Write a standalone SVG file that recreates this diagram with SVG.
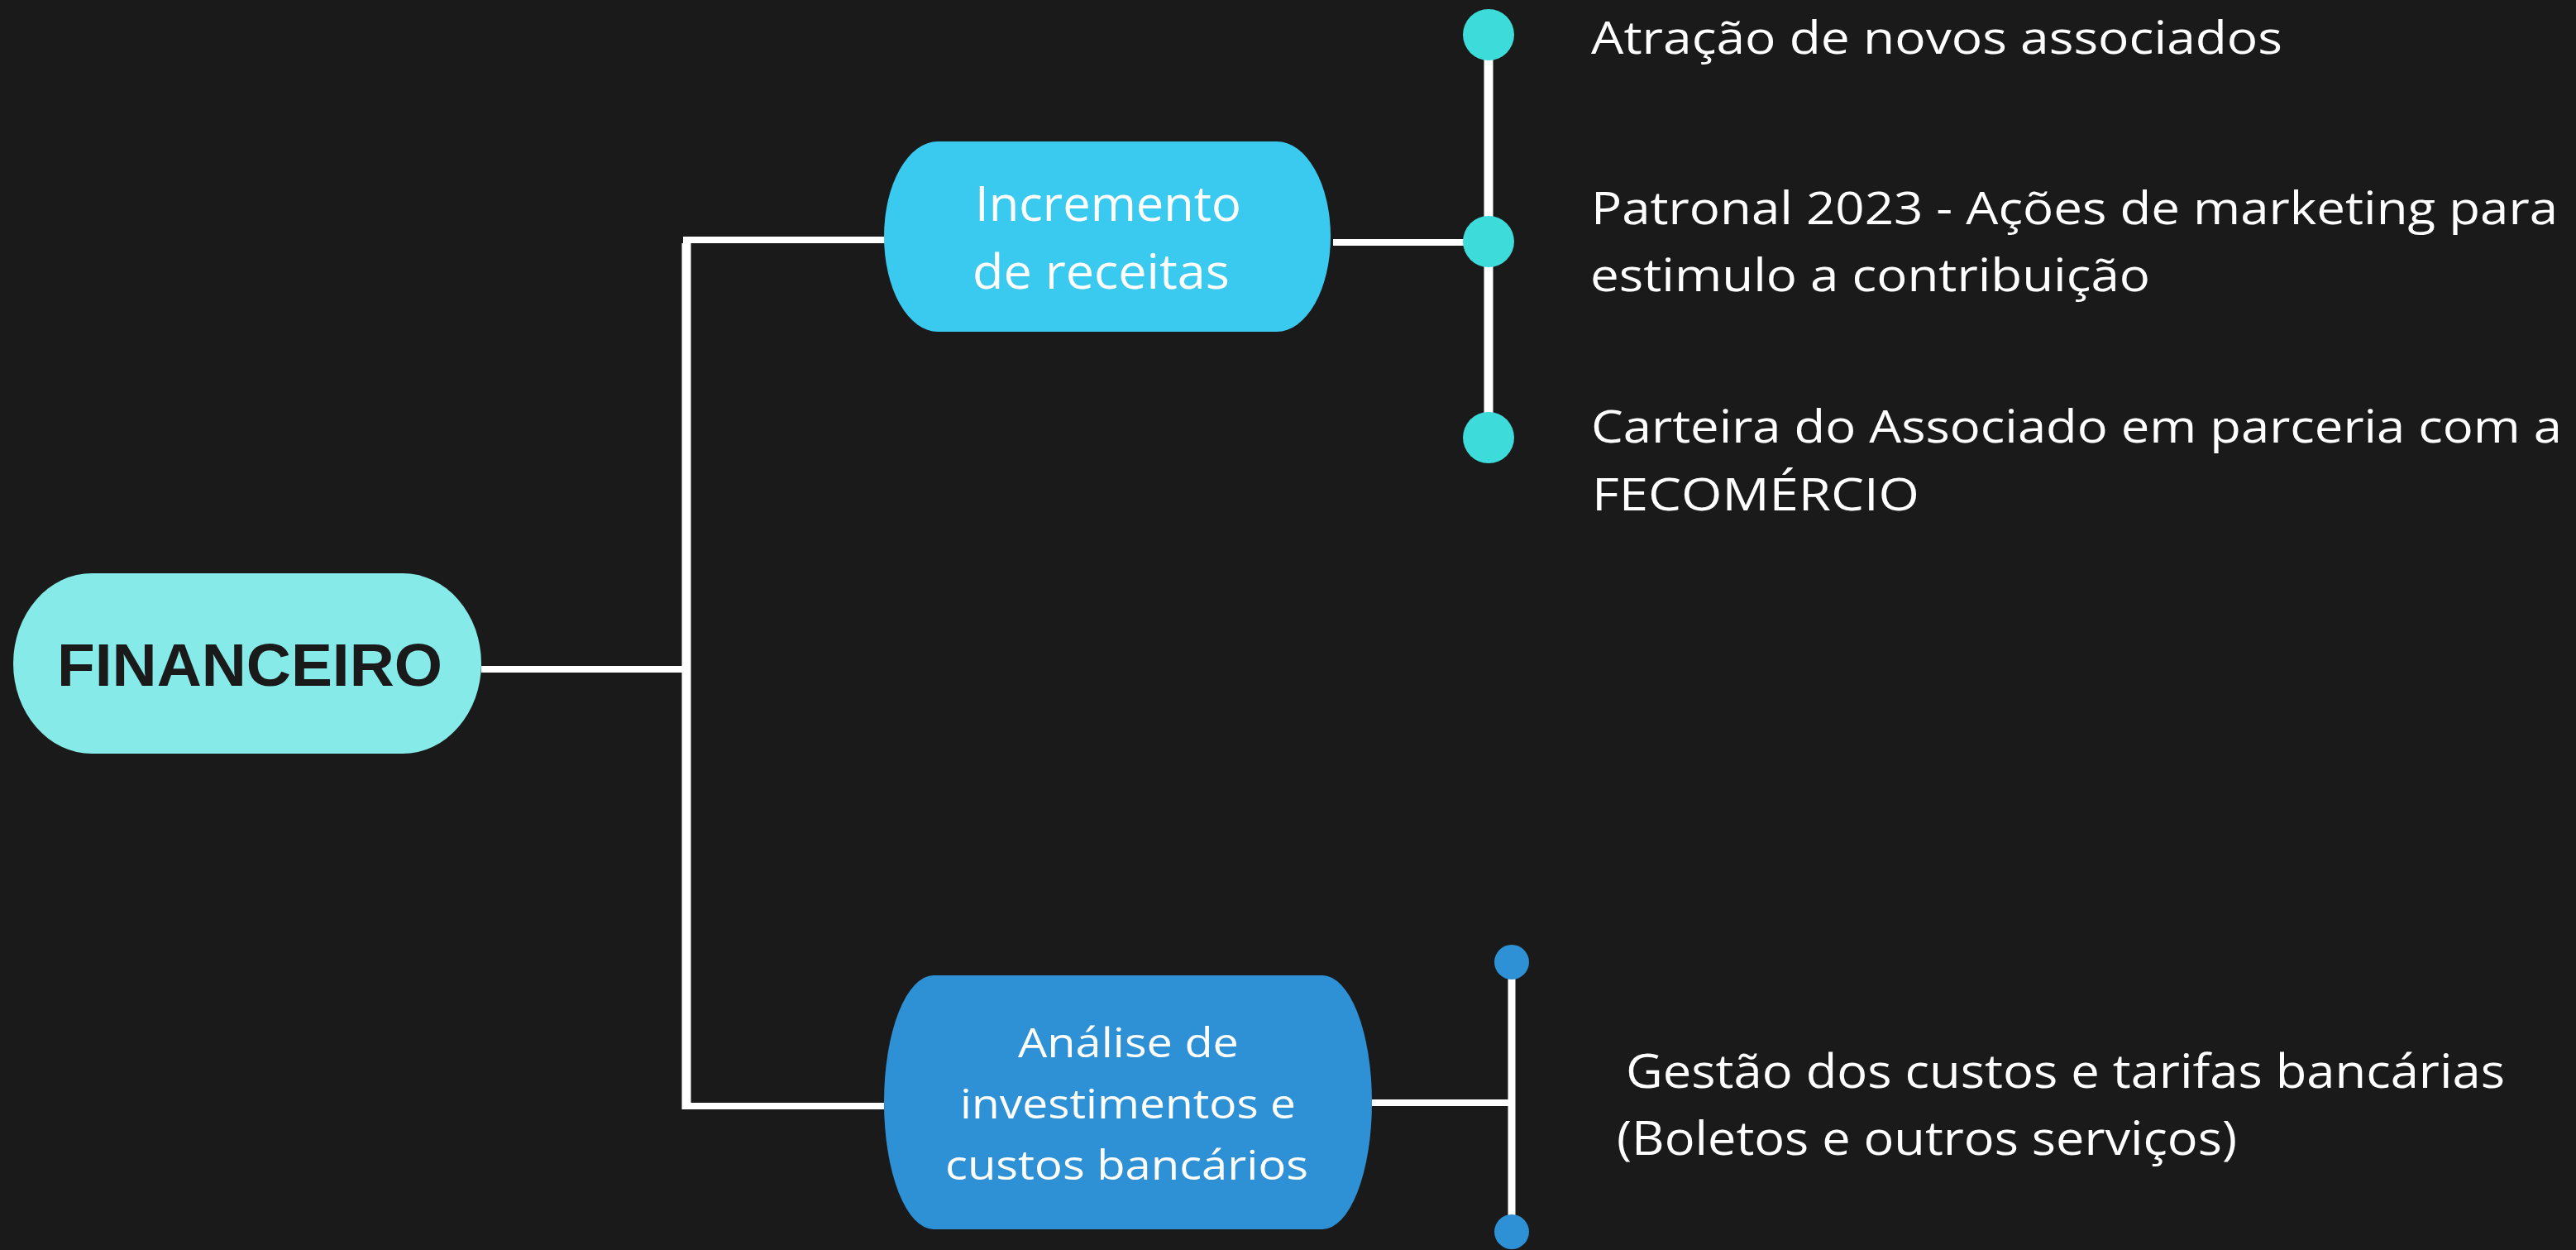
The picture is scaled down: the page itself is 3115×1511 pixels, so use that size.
<svg xmlns="http://www.w3.org/2000/svg" width="3115" height="1511" viewBox="0 0 3115 1511">
<style>
.bg{fill:#1a1a1a}
.ln{stroke:#ffffff;fill:none}
.h{stroke-width:8}
.v{stroke-width:11}
.lbl{font-family:"Open Sans","Liberation Sans",sans-serif;fill:#ffffff}
.item{font-family:"Open Sans","Liberation Sans",sans-serif;fill:#ffffff;font-size:54px}
.root{font-family:"Liberation Sans",Arial,sans-serif;font-weight:bold;fill:#1a1a1a;font-size:72px}
</style>
<rect class="bg" x="0" y="0" width="3115" height="1511"/>
<g id="connectors">
<line class="ln h" x1="582" y1="809" x2="830" y2="809"/>
<line class="ln v" x1="830" y1="294" x2="830" y2="1341"/>
<line class="ln h" x1="826" y1="290" x2="1071" y2="290"/>
<line class="ln h" x1="826" y1="1337" x2="1069" y2="1337"/>
<line class="ln h" x1="1612" y1="293" x2="1800" y2="293"/>
<line class="ln v" x1="1800" y1="42" x2="1800" y2="529"/>
<line class="ln h" x1="1659" y1="1333" x2="1828" y2="1333"/>
<line class="ln" stroke-width="9" x1="1828" y1="1163" x2="1828" y2="1489"/>
</g>
<g id="node-financeiro">
<rect x="16" y="693" width="566" height="218" rx="95" ry="109" fill="#86eae8"/>
<text class="root" x="69" y="829" textLength="466" lengthAdjust="spacingAndGlyphs">FINANCEIRO</text>
</g>
<g id="node-incremento">
<rect x="1069" y="171" width="540" height="230" rx="65" ry="115" fill="#3ac9ef"/>
<text class="lbl" font-size="58" x="1179" y="267" textLength="322" lengthAdjust="spacingAndGlyphs">Incremento</text>
<text class="lbl" font-size="58" x="1176" y="349" textLength="311" lengthAdjust="spacingAndGlyphs">de receitas</text>
</g>
<g id="node-analise">
<rect x="1069" y="1179" width="590" height="307" rx="60" ry="153" fill="#2e91d5"/>
<text class="lbl" font-size="50" x="1231" y="1278" textLength="267" lengthAdjust="spacingAndGlyphs">Análise de</text>
<text class="lbl" font-size="50" x="1161" y="1352" textLength="406" lengthAdjust="spacingAndGlyphs">investimentos e</text>
<text class="lbl" font-size="50" x="1143" y="1426" textLength="439" lengthAdjust="spacingAndGlyphs">custos bancários</text>
</g>
<g id="item-atracao">
<circle cx="1800" cy="42" r="31" fill="#3ddbd9"/>
<text class="item" x="1924" y="65" textLength="836" lengthAdjust="spacingAndGlyphs">Atração de novos associados</text>
</g>
<g id="item-patronal">
<circle cx="1800" cy="292" r="31" fill="#3ddbd9"/>
<text class="item" x="1924" y="271" textLength="1169" lengthAdjust="spacingAndGlyphs">Patronal 2023 - Ações de marketing para</text>
<text class="item" x="1923" y="352" textLength="677" lengthAdjust="spacingAndGlyphs">estimulo a contribuição</text>
</g>
<g id="item-carteira">
<circle cx="1800" cy="529" r="31" fill="#3ddbd9"/>
<text class="item" x="1924" y="535" textLength="1174" lengthAdjust="spacingAndGlyphs">Carteira do Associado em parceria com a</text>
<text class="item" x="1925" y="617" textLength="396" lengthAdjust="spacingAndGlyphs">FECOMÉRCIO</text>
</g>
<g id="item-gestao">
<circle cx="1828" cy="1163" r="21" fill="#2e91d5"/>
<circle cx="1828" cy="1489" r="21" fill="#2e91d5"/>
<text class="item" font-size="57" style="font-size:57px" x="1966" y="1315" textLength="1063" lengthAdjust="spacingAndGlyphs">Gestão dos custos e tarifas bancárias</text>
<text class="item" style="font-size:57px" x="1955" y="1396" textLength="750" lengthAdjust="spacingAndGlyphs">(Boletos e outros serviços)</text>
</g>
</svg>
